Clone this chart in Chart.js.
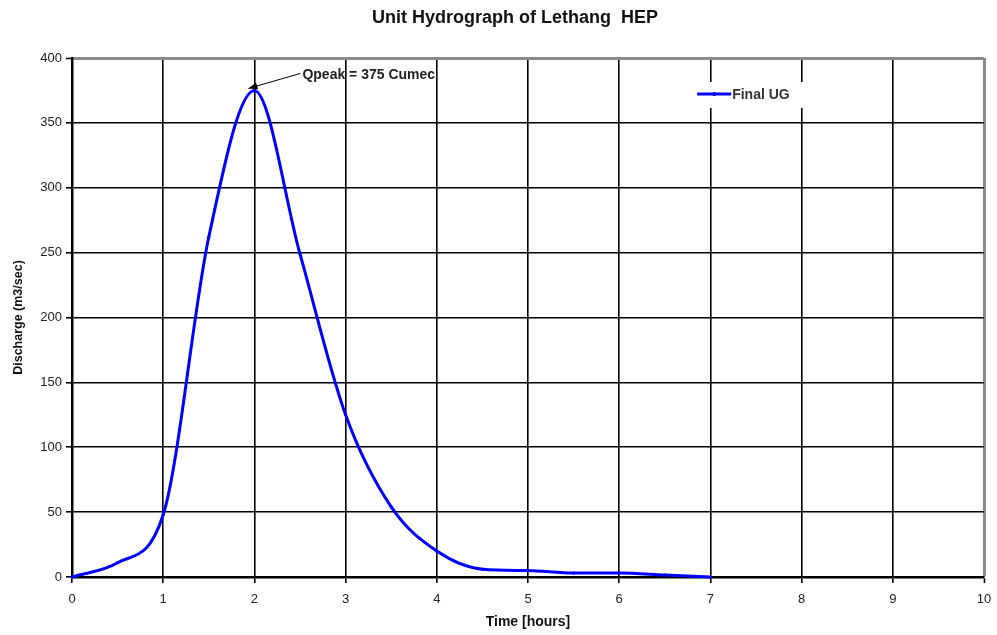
<!DOCTYPE html>
<html>
<head>
<meta charset="utf-8">
<script src="https://cdn.jsdelivr.net/npm/chart.js@4.4.1/dist/chart.umd.min.js"></script>
<style>
html,body{margin:0;padding:0;background:#ffffff;overflow:hidden;}
#wrap{width:997px;height:635px;}
canvas{display:block;}
</style>
</head>
<body>
<div id="wrap"><canvas id="c" width="997" height="635"></canvas></div>
<script>
// ---- data (hours, m3/sec) ----
const timeHours = [0, 0.5, 1, 1.5, 2, 2.5, 3, 3.5, 4, 4.5, 5, 5.5, 6, 6.5, 7];
const finalUG   = [0, 11, 48, 262, 375, 249, 125, 54, 20, 6, 5, 3, 3, 1.5, 0];
const xTickValues = [0, 1, 2, 3, 4, 5, 6, 7, 8, 9, 10];
const yTickValues = [0, 50, 100, 150, 200, 250, 300, 350, 400];
const seriesName = 'Final UG';
const chartTitle = 'Unit Hydrograph of Lethang  HEP';
const xAxisTitle = 'Time [hours]';
const yAxisTitle = 'Discharge (m3/sec)';
const peakText = 'Qpeak = 375 Cumec';
const peakTime = 2;
const peakValue = 375;

const FONT = "'Liberation Sans', Arial, Helvetica, sans-serif";
const BLUE = '#0000ff';

const points = timeHours.map((t, i) => ({x: t, y: finalUG[i]}));

const decorPlugin = {
  id: 'decor',
  afterDraw(chart) {
    const {ctx, chartArea, scales} = chart;
    ctx.save();
    // Title
    ctx.fillStyle = '#111';
    ctx.font = 'bold 18px ' + FONT;
    ctx.textAlign = 'center';
    ctx.textBaseline = 'middle';
    ctx.fillText(chartTitle, (chartArea.left + chartArea.right) / 2 - 13, 18);

    // Legend (inside plot, white box)
    const lx = chartArea.left + (chartArea.right - chartArea.left) * 0.6855;
    const ly = chartArea.top + 36;
    ctx.fillStyle = '#ffffff';
    ctx.fillRect(lx - 8, ly - 12, 118, 26);
    ctx.strokeStyle = BLUE;
    ctx.lineWidth = 3;
    ctx.beginPath();
    ctx.moveTo(lx, ly);
    ctx.lineTo(lx + 34, ly);
    ctx.stroke();
    ctx.fillStyle = BLUE;
    ctx.beginPath();
    ctx.arc(lx + 17, ly, 2, 0, Math.PI * 2);
    ctx.fill();
    ctx.fillStyle = '#333';
    ctx.font = 'bold 14px ' + FONT;
    ctx.textAlign = 'left';
    ctx.textBaseline = 'middle';
    ctx.fillText(chart.data.datasets[0].label, lx + 35, ly + 1);

    // Peak annotation with arrow
    const px = scales.x.getPixelForValue(peakTime);
    const py = scales.y.getPixelForValue(peakValue);
    const tipX = px - 6, tipY = py - 2;
    const tailX = px + 46, tailY = py - 17;
    ctx.strokeStyle = '#000';
    ctx.fillStyle = '#000';
    ctx.lineWidth = 1;
    ctx.beginPath();
    ctx.moveTo(tailX, tailY);
    ctx.lineTo(tipX, tipY);
    ctx.stroke();
    const ang = Math.atan2(tipY - tailY, tipX - tailX);
    const ah = 9, aw = 3.5;
    ctx.beginPath();
    ctx.moveTo(tipX, tipY);
    ctx.lineTo(tipX - ah * Math.cos(ang) + aw * Math.sin(ang), tipY - ah * Math.sin(ang) - aw * Math.cos(ang));
    ctx.lineTo(tipX - ah * Math.cos(ang) - aw * Math.sin(ang), tipY - ah * Math.sin(ang) + aw * Math.cos(ang));
    ctx.closePath();
    ctx.fill();
    ctx.fillStyle = '#222';
    ctx.font = 'bold 14px ' + FONT;
    ctx.textAlign = 'left';
    ctx.textBaseline = 'middle';
    ctx.fillText(peakText, px + 48, py - 15);
    ctx.restore();
  }
};

new Chart(document.getElementById('c'), {
  type: 'line',
  data: {
    datasets: [{
      label: seriesName,
      data: points,
      borderColor: BLUE,
      backgroundColor: BLUE,
      borderWidth: 3,
      pointRadius: 1.6,
      pointHoverRadius: 1.6,
      pointBorderWidth: 0,
      cubicInterpolationMode: 'monotone',
      fill: false,
      clip: false
    }]
  },
  options: {
    responsive: false,
    animation: false,
    devicePixelRatio: 1,
    layout: {padding: {top: 58, right: 13, bottom: 0, left: 0}},
    plugins: {
      legend: {display: false},
      title: {display: false},
      tooltip: {enabled: false}
    },
    scales: {
      x: {
        type: 'linear',
        min: xTickValues[0],
        max: xTickValues[xTickValues.length - 1],
        afterBuildTicks: s => { s.ticks = xTickValues.map(v => ({value: v})); },
        afterFit: s => { s.height = 58; s.paddingRight = 0; s.paddingLeft = 0; },
        ticks: {
          color: '#222',
          font: {family: FONT, size: 13},
          padding: 9,
          maxRotation: 0,
          autoSkip: false
        },
        grid: {
          color: c => (c.tick && c.tick.value === xTickValues[xTickValues.length - 1]) ? '#8a8a8a' : '#000',
          lineWidth: c => (c.tick && c.tick.value === xTickValues[xTickValues.length - 1]) ? 3 : 1.6,
          tickColor: '#000',
          tickLength: 6,
          tickWidth: 1.6
        },
        border: {color: '#000', width: 2.5},
        title: {
          display: true,
          text: xAxisTitle,
          color: '#111',
          font: {family: FONT, size: 14, weight: 'bold'},
          padding: {top: 0, bottom: 4}
        }
      },
      y: {
        type: 'linear',
        min: yTickValues[0],
        max: yTickValues[yTickValues.length - 1],
        afterBuildTicks: s => { s.ticks = yTickValues.map(v => ({value: v})); },
        afterFit: s => { s.width = 72; },
        ticks: {
          color: '#222',
          font: {family: FONT, size: 13},
          padding: 4
        },
        grid: {
          color: c => (c.tick && c.tick.value === yTickValues[yTickValues.length - 1]) ? '#8a8a8a' : '#000',
          lineWidth: c => (c.tick && c.tick.value === yTickValues[yTickValues.length - 1]) ? 3 : 1.6,
          tickColor: '#000',
          tickLength: 6,
          tickWidth: 1.6
        },
        border: {color: '#000', width: 2.5},
        title: {
          display: true,
          text: yAxisTitle,
          color: '#111',
          font: {family: FONT, size: 12.5, weight: 'bold'},
          padding: {top: 11, bottom: 0}
        }
      }
    }
  },
  plugins: [decorPlugin]
});
</script>
</body>
</html>
